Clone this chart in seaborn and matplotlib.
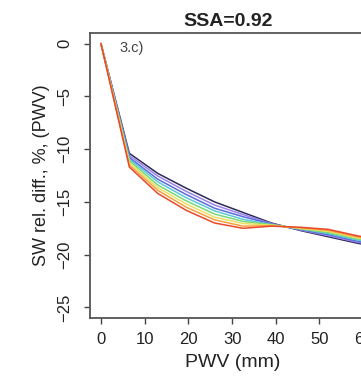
import numpy as np
import pandas as pd
import seaborn as sns
import matplotlib
matplotlib.use('Agg')
import matplotlib.pyplot as plt

## DATA ##
pwv = [0, 6.5, 13, 19.5, 26, 32.5, 39, 45.5, 52, 58.5, 65]

# one curve per colour, top (dark) to bottom (red) before the crossing
curves = {
    'k0': [0, -10.4, -12.3, -13.7, -15.0, -16.0, -17.0, -17.7, -18.3, -18.9, -19.4],
    'k1': [0, -10.6, -12.55, -14.0, -15.3, -16.2, -17.05, -17.65, -18.2, -18.8, -19.3],
    'k2': [0, -10.8, -12.85, -14.3, -15.6, -16.4, -17.1, -17.6, -18.1, -18.7, -19.2],
    'k3': [0, -10.95, -13.1, -14.6, -15.85, -16.65, -17.15, -17.55, -18.0, -18.6, -19.1],
    'k4': [0, -11.1, -13.4, -14.9, -16.15, -16.85, -17.15, -17.55, -17.9, -18.5, -19.0],
    'k5': [0, -11.3, -13.65, -15.2, -16.45, -17.05, -17.2, -17.5, -17.8, -18.4, -18.9],
    'k6': [0, -11.5, -13.9, -15.5, -16.7, -17.3, -17.25, -17.45, -17.7, -18.3, -18.8],
    'k7': [0, -11.7, -14.2, -15.8, -17.0, -17.5, -17.3, -17.4, -17.6, -18.2, -18.7],
}
colours = ['#2a2a55', '#9a80e8', '#5a6ae0', '#5ac8d8', '#78d878', '#e8e060', '#f5a040', '#e84a2a']

title = 'SSA=0.92'
panel = '3.c)'
xticks = [0, 10, 20, 30, 40, 50, 60]
yticks = [0, -5, -10, -15, -20, -25]

df = pd.DataFrame([(k, x, y) for k, ys in curves.items() for x, y in zip(pwv, ys)],
                  columns=['run', 'PWV', 'diff'])

## PLOT ##
sns.set_style('ticks')
plt.rcParams['font.family'] = ['Liberation Sans', 'DejaVu Sans']

fig = plt.figure(figsize=(3.61, 3.78), dpi=100)
ax = fig.add_axes([0.2493, 0.1587, 0.7895, 0.754])

sns.lineplot(data=df, x='PWV', y='diff', hue='run', palette=colours,
             estimator=None, sort=False, linewidth=1.1, legend=False, ax=ax)

ax.set_xlim(-2.5, 62.7)
ax.set_ylim(-26, 1)
ax.set_xticks(xticks)
ax.set_yticks(yticks)
ax.tick_params(axis='both', bottom=True, left=True, length=4, width=1, color='#444444',
               labelsize=12, labelcolor='#222222')
ax.tick_params(axis='x', pad=6)
ax.tick_params(axis='y', labelrotation=90, pad=9)
for lab in ax.get_yticklabels():
    lab.set_va('center')
for s in ax.spines.values():
    s.set_visible(True)
    s.set_color('#555555')
    s.set_linewidth(1.3)

ax.set_xlabel('PWV (mm)', fontsize=14, color='#222222', labelpad=5)
ax.set_ylabel('SW rel. diff., %, (PWV)', fontsize=13, color='#222222', labelpad=5)
ax.set_title(title, fontsize=14, fontweight='bold', x=0.483, pad=5, color='#222222')
ax.text(4.3, -0.4, panel, fontsize=10.5, va='center', color='#444444')

fig.savefig('out.png', dpi=100)
